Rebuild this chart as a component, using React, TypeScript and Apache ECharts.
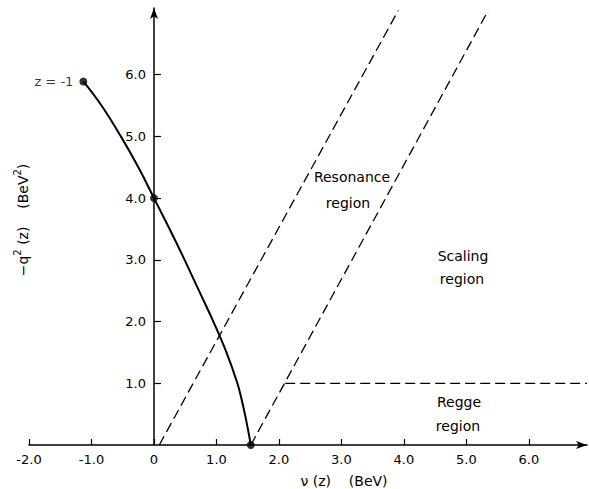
import React, { useEffect, useRef } from 'react';
import * as echarts from 'echarts';

// Axis ticks
const xTickValues = [-2, -1, 0, 1, 2, 3, 4, 5, 6];
const yTickValues = [1, 2, 3, 4, 5, 6];

// Kinematic curve nu(z), -q^2(z)
const curveNu = [-1.13, -0.84, -0.53, -0.25, 0, 0.25, 0.49, 0.72, 0.95, 1.16, 1.335, 1.4, 1.455, 1.505, 1.55];
const curveQ2 = [5.89, 5.5, 5.0, 4.5, 4.0, 3.5, 3.0, 2.5, 2.0, 1.5, 1.0, 0.75, 0.5, 0.25, 0];

// Marked points on the curve
const markedNu = [-1.13, 0, 1.55];
const markedQ2 = [5.89, 4.0, 0];

// Dashed region boundaries
const boundaryANu = [0.085, 3.91];
const boundaryAQ2 = [0, 7.04];
const boundaryBNu = [1.55, 5.35];
const boundaryBQ2 = [0, 7.04];
const reggeNu = [2.1, 6.93];
const reggeQ2 = [1.0, 1.0];

const FONT = '"DejaVu Sans", sans-serif';

const pairs = (xs: number[], ys: number[]) => xs.map((x, i) => [x, ys[i]]);

export default function App() {
  const ref = useRef<HTMLDivElement>(null);
  useEffect(() => {
    if (!ref.current) return;
    const chart = echarts.init(ref.current, null, { renderer: 'svg' });
    const dashed = { color: '#000', width: 1.3, type: [10, 5] as number[] };
    const txt = (text: string, x: number, y: number) => ({
      type: 'text',
      x,
      y,
      style: { text, font: `14px ${FONT}`, fill: '#000', textAlign: 'center', textVerticalAlign: 'middle' },
    });
    chart.setOption({
      animation: false,
      backgroundColor: '#fff',
      grid: { left: 29, right: 2, top: 8, bottom: 44, outerBoundsMode: 'none' },
      xAxis: {
        type: 'value',
        min: -2,
        max: 6.93,
        interval: 1,
        axisLine: {
          show: true,
          onZero: false,
          symbol: ['none', 'arrow'],
          symbolSize: [6, 11],
          lineStyle: { color: '#000', width: 1.5 },
        },
        axisTick: {
          show: true,
          inside: true,
          length: 6,
          customValues: xTickValues,
          lineStyle: { color: '#000', width: 1.2 },
        },
        axisLabel: {
          customValues: xTickValues,
          formatter: (v: number) => (v === 0 ? '0' : v.toFixed(1)),
          margin: 8,
          fontSize: 13,
          color: '#000',
          fontFamily: FONT,
        },
        splitLine: { show: false },
      },
      yAxis: {
        type: 'value',
        min: 0,
        max: 7.08,
        interval: 1,
        offset: -125,
        axisLine: {
          show: true,
          onZero: false,
          symbol: ['none', 'arrow'],
          symbolSize: [6, 11],
          lineStyle: { color: '#000', width: 1.5 },
        },
        axisTick: {
          show: true,
          inside: true,
          length: 7,
          customValues: yTickValues,
          lineStyle: { color: '#000', width: 1.2 },
        },
        axisLabel: {
          customValues: yTickValues,
          formatter: (v: number) => v.toFixed(1),
          margin: 8,
          fontSize: 13,
          color: '#000',
          fontFamily: FONT,
        },
        splitLine: { show: false },
      },
      series: [
        {
          type: 'line',
          data: pairs(curveNu, curveQ2),
          smooth: 0.4,
          showSymbol: false,
          lineStyle: { color: '#000', width: 2 },
          z: 3,
        },
        {
          type: 'line',
          data: pairs(boundaryANu, boundaryAQ2),
          showSymbol: false,
          lineStyle: dashed,
        },
        {
          type: 'line',
          data: pairs(boundaryBNu, boundaryBQ2),
          showSymbol: false,
          lineStyle: dashed,
        },
        {
          type: 'line',
          data: pairs(reggeNu, reggeQ2),
          showSymbol: false,
          lineStyle: dashed,
        },
        {
          type: 'scatter',
          data: pairs(markedNu, markedQ2),
          symbolSize: 8,
          itemStyle: { color: '#000' },
          z: 4,
          label: {
            show: true,
            position: 'left',
            distance: 6,
            formatter: (p: any) => (p.dataIndex === 0 ? 'z = -1' : ''),
            fontSize: 13,
            color: '#000',
            fontFamily: FONT,
          },
        },
      ],
      graphic: [
        {
          type: 'text',
          x: 344,
          y: 481,
          style: {
            text: 'ν (z)    (BeV)',
            font: `14px ${FONT}`,
            fill: '#000',
            textAlign: 'center',
            textVerticalAlign: 'middle',
          },
        },
        {
          type: 'text',
          x: 21,
          y: 220,
          rotation: Math.PI / 2,
          style: {
            text: '{n|−q}{s|2}{n| (z)    (BeV}{s|2}{n|)}',
            textAlign: 'center',
            textVerticalAlign: 'middle',
            fill: '#000',
            rich: {
              n: { fontSize: 14, fontFamily: FONT, fill: '#000', verticalAlign: 'bottom' },
              s: { fontSize: 10, fontFamily: FONT, fill: '#000', padding: [0, 0, 7, 0], verticalAlign: 'bottom' },
            },
          },
        },
        txt('Resonance', 352, 177),
        txt('region', 348, 203),
        txt('Scaling', 463, 256),
        txt('region', 462, 279),
        txt('Regge', 459, 402),
        txt('region', 458, 426),
      ],
    });
    return () => chart.dispose();
  }, []);
  return (
    <div
      ref={ref}
      style={{ position: 'fixed', left: 0, top: 0, width: 589, height: 489, background: '#fff' }}
    />
  );
}
